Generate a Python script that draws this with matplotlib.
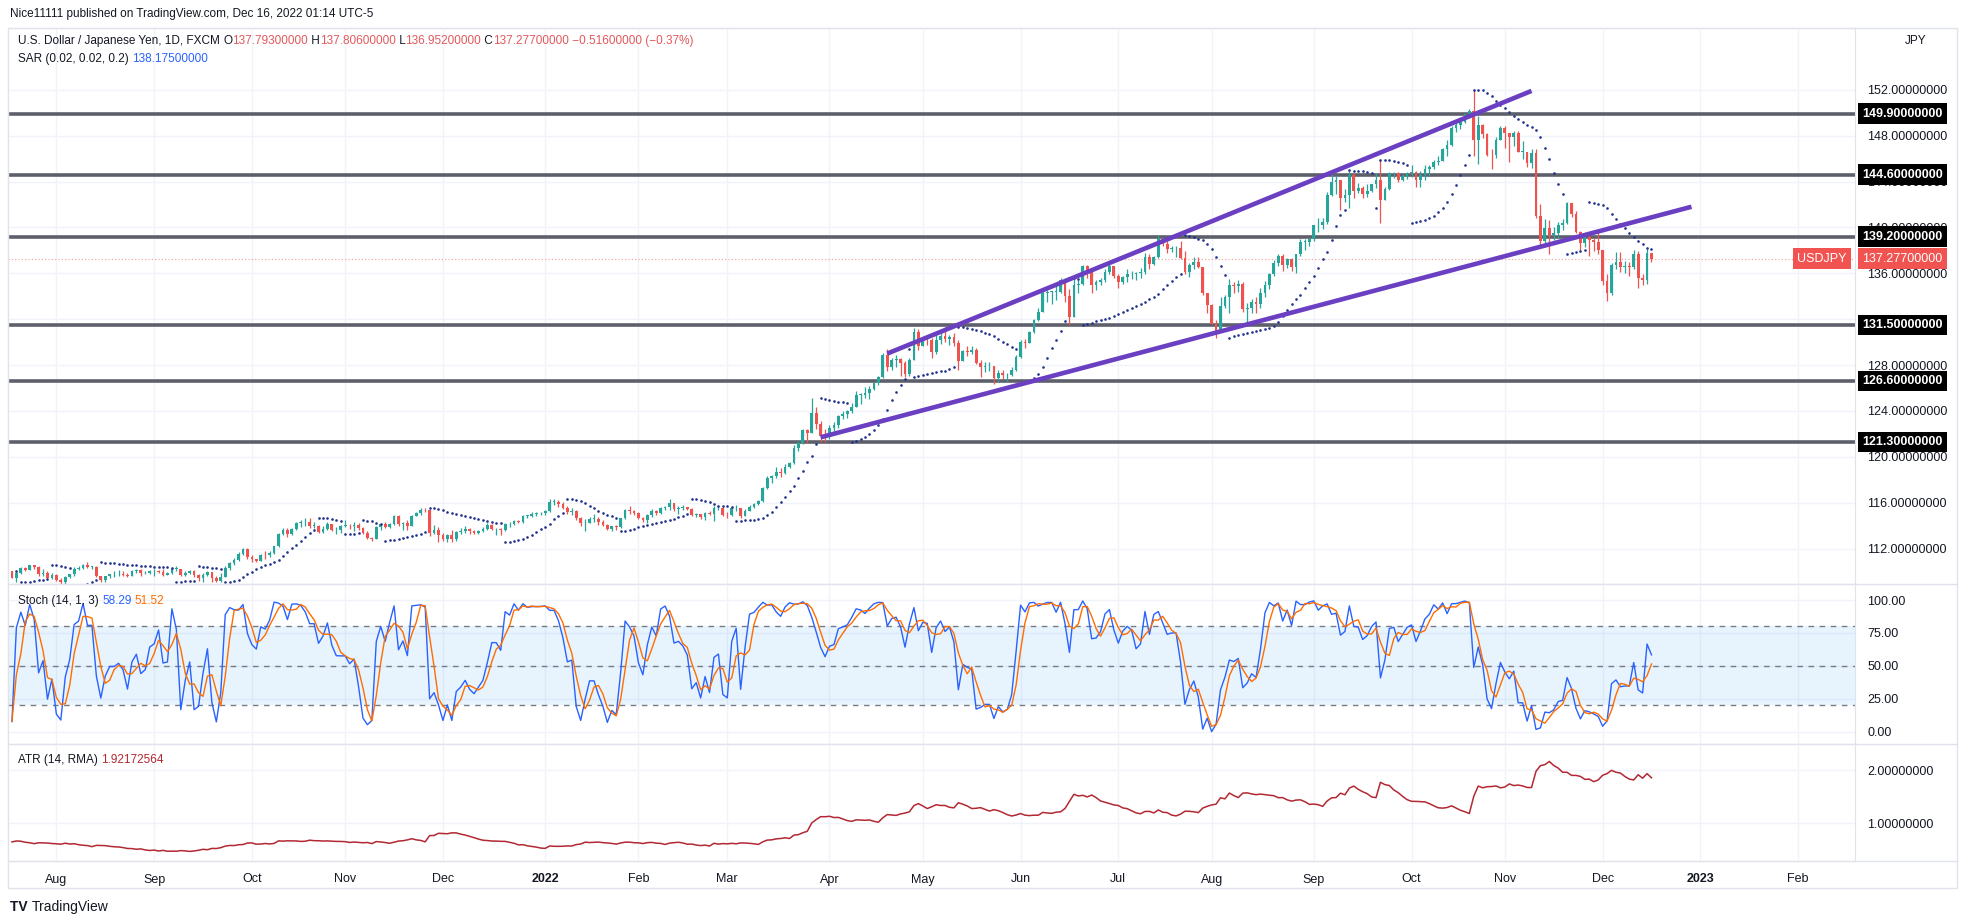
import numpy as np
import pandas as pd
import matplotlib
matplotlib.use("Agg")
import matplotlib.pyplot as plt
from matplotlib.patches import Rectangle
from matplotlib.lines import Line2D
from matplotlib.ticker import FormatStrFormatter
from matplotlib.transforms import IdentityTransform

# USDJPY, 1D, FXCM: дневные свечи с 19.07.2021 по 16.12.2022
start_date = "2021-07-19"
first_open = 110.05

closes = [
    109.45, 109.85, 110.28, 110.15, 110.55, 110.38, 109.77, 109.91, 109.47, 109.70,
    109.30, 109.05, 109.50, 109.75, 110.25, 110.30, 110.60, 110.40, 110.40, 109.60, 109.25,
    109.60, 109.75, 109.75, 109.80, 109.70, 109.65, 110.00, 110.10, 109.85, 109.90, 110.00,
    110.00, 109.95, 109.70, 109.85, 110.25, 110.25, 109.70, 109.90, 110.05, 109.70, 109.40,
    109.70, 109.95, 109.40, 109.20, 109.50, 110.30, 110.75, 111.00, 111.50, 111.95, 111.30,
    111.05, 110.95, 111.45, 111.40, 111.60, 112.20, 113.30, 113.60, 113.25, 113.70, 114.20,
    114.30, 114.35, 114.00, 114.00, 113.45, 113.70, 114.10, 113.60, 113.60, 114.00,
    114.00, 113.95, 114.05, 113.75, 113.40, 112.90, 112.85, 113.90, 114.10, 113.90, 114.15,
    114.85, 114.10, 114.25, 114.00, 114.85, 115.10, 115.40, 115.35, 113.40, 113.60, 113.15,
    112.80, 113.15, 112.80, 113.45, 113.55, 113.70, 113.50, 113.40, 113.55, 113.70, 114.05,
    113.70, 113.70, 113.60, 114.10, 114.10, 114.40, 114.35, 114.85, 114.85, 115.05, 115.10, 115.10,
    # 2022
    115.30, 116.10, 116.10, 115.85, 115.55, 115.20, 115.30, 114.65, 114.20, 114.20, 114.60,
    114.60, 114.30, 114.05, 113.70, 113.95, 113.85, 114.65, 115.35, 115.25, 115.10,
    114.65, 114.45, 114.95, 115.25, 115.10, 115.55, 115.60, 116.00, 115.45, 115.55,
    115.60, 115.45, 114.90, 115.00, 114.75, 115.10, 115.05, 115.50, 115.55, 114.95,
    114.90, 115.50, 115.50, 114.85, 115.30, 115.65, 115.85, 116.15, 117.30, 118.15, 118.30,
    118.70, 118.55, 119.15, 119.45, 120.80, 121.20, 122.30, 122.10, 123.85, 122.85, 121.85, 121.70,
    122.50, 122.75, 123.60, 123.75, 123.95, 124.35, 125.40, 125.40, 125.60, 125.90, 126.40,
    126.95, 128.90, 127.85, 128.40, 128.50, 128.15, 127.25, 128.40, 130.85, 129.70,
    130.20, 130.15, 129.10, 130.20, 130.55, 130.30, 130.45, 129.95, 128.35, 129.20, 129.15,
    129.35, 128.20, 127.80, 127.90, 127.90, 126.85, 127.30, 127.10, 127.10, 127.60, 128.70,
    130.05, 129.90, 130.85, 131.90, 132.65, 134.25, 134.40, 134.40, 134.40, 135.45, 134.00,
    132.20, 135.00, 135.10, 136.65, 136.25, 134.95, 135.20, 135.45, 136.15, 136.60, 135.75,
    135.20, 135.70, 135.90, 135.90, 136.00, 136.10, 137.45, 136.85, 137.40, 138.95, 138.55,
    138.15, 138.20, 138.20, 137.35, 136.10, 136.70, 136.95, 136.55, 134.25, 133.20,
    131.60, 130.90, 133.15, 133.90, 135.00, 134.90, 135.10, 132.90, 133.00, 133.50, 133.30,
    134.25, 135.00, 135.90, 136.90, 137.50, 136.75, 137.25, 136.55, 137.65, 138.75, 138.75, 138.95,
    140.20, 140.20, 140.50, 142.80, 144.00, 144.10, 142.60, 142.85, 144.60, 143.20, 143.45,
    142.90, 143.20, 143.75, 144.10, 142.35, 143.35, 144.70, 144.75, 144.15, 144.45, 144.75,
    144.85, 144.15, 144.60, 145.10, 145.30, 145.70, 145.80, 146.85, 147.20, 148.70, 148.95,
    149.20, 149.90, 150.15, 147.65, 148.95, 148.10, 146.35, 146.30, 147.60, 148.70,
    148.20, 147.85, 148.25, 146.60, 146.60, 145.65, 146.45, 141.00, 138.80, 139.95, 139.30,
    139.55, 140.25, 140.35, 142.10, 141.20, 139.60, 138.65, 139.15, 138.90, 138.75, 138.05,
    135.30, 134.30, 136.75, 137.00, 136.55, 136.60, 136.55, 137.70, 135.60, 135.45, 137.793, 137.277,
]
highs = [
    110.05, 110.00, 110.40, 110.40, 110.60, 110.60, 110.45, 110.20, 110.00, 109.85,
    109.75, 109.40, 109.60, 109.80, 110.35, 110.45, 110.65, 110.80, 110.50, 110.45, 109.65,
    109.65, 109.80, 110.00, 110.10, 110.00, 109.85, 110.10, 110.20, 110.20, 110.05, 110.10,
    110.20, 110.10, 110.25, 109.95, 110.30, 110.45, 110.20, 110.00, 110.15, 110.15, 109.80,
    109.85, 110.05, 109.95, 109.60, 109.85, 110.45, 110.85, 111.15, 111.70, 112.05, 112.05,
    111.45, 111.10, 111.55, 111.80, 111.75, 112.25, 113.40, 113.80, 113.80, 113.80, 114.30,
    114.45, 114.70, 114.70, 114.35, 114.05, 113.95, 114.30, 114.05, 113.85, 114.05,
    114.45, 114.15, 114.30, 114.20, 113.85, 113.50, 113.05, 113.95, 114.15, 114.30, 114.25,
    114.95, 114.95, 114.35, 114.50, 114.95, 115.20, 115.50, 115.50, 115.40, 114.05, 113.90,
    113.40, 113.30, 113.60, 113.50, 113.80, 113.95, 113.75, 113.65, 113.65, 113.85, 114.25,
    114.15, 113.80, 113.75, 114.20, 114.30, 114.45, 114.45, 114.90, 114.95, 115.15, 115.20, 115.20,
    # 2022
    115.40, 116.35, 116.30, 116.20, 116.05, 115.70, 115.50, 115.40, 114.75, 114.60, 114.75,
    115.05, 114.75, 114.45, 114.15, 114.00, 114.05, 114.70, 115.45, 115.70, 115.40,
    115.15, 114.75, 115.05, 115.45, 115.40, 115.60, 115.70, 116.35, 116.00, 115.75,
    115.80, 115.65, 115.50, 115.10, 115.05, 115.20, 115.25, 115.70, 115.75, 115.60,
    115.20, 115.60, 115.80, 115.50, 115.45, 115.80, 116.00, 116.25, 117.35, 118.30, 118.45,
    119.10, 119.00, 119.40, 119.55, 121.00, 121.40, 122.40, 122.40, 125.10, 124.30, 123.15, 122.40,
    122.80, 123.05, 123.65, 124.00, 124.05, 124.70, 125.75, 125.60, 126.10, 126.20, 126.55,
    127.05, 129.05, 129.40, 128.65, 128.85, 128.60, 128.35, 128.60, 131.25, 131.15,
    130.45, 130.40, 130.35, 130.80, 131.00, 131.35, 130.60, 130.80, 130.20, 129.35, 129.65,
    129.65, 129.45, 128.45, 128.25, 128.25, 127.95, 127.55, 127.55, 127.30, 127.85, 128.90,
    130.20, 130.25, 130.95, 132.00, 132.95, 134.50, 134.55, 134.45, 135.20, 135.60, 135.60,
    134.65, 135.50, 135.40, 136.70, 136.70, 136.30, 135.40, 135.55, 136.35, 137.00, 136.60,
    135.95, 135.80, 136.35, 136.20, 136.15, 136.50, 137.75, 137.65, 137.55, 139.35, 139.05,
    138.85, 138.40, 138.35, 138.85, 137.90, 136.90, 137.45, 137.45, 136.55, 134.05,
    133.30, 131.95, 133.90, 134.15, 135.50, 135.20, 135.40, 135.25, 133.40, 133.80, 133.90,
    134.70, 135.35, 136.00, 137.20, 137.65, 137.70, 137.35, 137.30, 137.70, 139.00, 138.95, 139.05,
    140.25, 140.80, 140.80, 143.05, 145.00, 144.50, 144.15, 143.35, 144.95, 144.75, 143.85,
    143.60, 143.75, 143.80, 144.70, 145.90, 143.50, 144.80, 144.85, 144.85, 144.65, 144.85,
    145.40, 144.95, 144.90, 145.45, 145.45, 145.90, 146.20, 146.95, 147.65, 148.85, 149.10,
    149.30, 149.95, 150.30, 151.95, 149.70, 149.05, 148.20, 146.85, 147.90, 148.80,
    148.85, 148.05, 148.40, 148.40, 147.50, 146.60, 146.80, 146.80, 142.00, 140.75, 140.65,
    140.00, 140.45, 140.75, 142.25, 142.05, 141.40, 139.70, 139.35, 139.40, 139.05, 139.90,
    138.05, 135.95, 136.90, 137.85, 137.85, 137.10, 137.00, 138.00, 137.95, 135.95, 138.15, 137.806,
]
lows = [
    109.40, 109.10, 109.80, 110.00, 110.10, 110.20, 109.60, 109.60, 109.40, 109.35,
    109.20, 108.90, 108.72, 109.40, 109.65, 110.10, 110.20, 110.30, 110.20, 109.55, 109.10,
    109.10, 109.40, 109.55, 109.60, 109.60, 109.55, 109.60, 109.85, 109.60, 109.80, 109.75,
    109.60, 109.85, 109.60, 109.70, 109.80, 110.00, 109.60, 109.60, 109.80, 109.55, 109.15,
    109.10, 109.65, 109.10, 109.10, 109.10, 109.50, 110.10, 110.60, 110.90, 111.40, 111.05,
    110.80, 110.80, 110.90, 111.05, 111.25, 111.50, 112.10, 113.20, 113.05, 113.15, 113.65,
    113.90, 114.00, 113.75, 113.80, 113.40, 113.35, 113.60, 113.50, 113.25, 113.40,
    113.85, 113.70, 113.55, 113.65, 113.30, 112.80, 112.70, 112.80, 113.60, 113.80, 113.80,
    114.05, 114.00, 113.60, 113.60, 113.95, 114.80, 114.95, 115.20, 113.10, 113.25, 112.55,
    112.65, 112.55, 112.55, 112.70, 113.30, 113.40, 113.30, 113.25, 113.30, 113.45, 113.65,
    113.60, 113.15, 113.15, 113.55, 113.90, 114.05, 114.25, 114.25, 114.65, 114.75, 114.80, 114.90,
    # 2022
    114.95, 115.20, 115.80, 115.65, 115.45, 115.05, 114.95, 114.45, 114.00, 113.50, 114.20,
    114.35, 114.05, 113.95, 113.60, 113.50, 113.60, 113.80, 114.60, 115.05, 114.90,
    114.55, 114.30, 114.20, 114.75, 114.95, 115.05, 115.35, 115.40, 115.25, 115.00,
    115.35, 115.35, 114.85, 114.75, 114.60, 114.50, 114.90, 114.40, 115.35, 114.85,
    114.65, 114.85, 115.30, 114.65, 114.85, 115.25, 115.50, 115.80, 116.05, 117.20, 117.70,
    118.15, 118.20, 118.50, 119.00, 119.40, 120.50, 121.10, 121.20, 122.05, 122.40, 121.30, 121.30,
    121.55, 122.25, 122.50, 123.30, 123.40, 123.85, 124.30, 124.60, 125.10, 125.05, 125.85,
    126.25, 126.85, 127.45, 127.60, 127.80, 127.05, 126.95, 127.05, 128.45, 129.30,
    129.70, 129.75, 128.60, 128.95, 129.85, 130.00, 129.75, 129.65, 127.55, 128.35, 128.75,
    129.00, 128.10, 127.00, 127.40, 127.45, 126.35, 126.55, 126.80, 126.65, 127.05, 127.50,
    128.65, 129.50, 129.90, 130.75, 131.80, 132.60, 133.50, 133.35, 133.70, 134.30, 133.50,
    131.50, 132.25, 134.30, 135.00, 135.60, 134.30, 134.55, 134.95, 135.25, 135.95, 135.60,
    134.75, 135.10, 135.25, 135.50, 135.45, 135.55, 135.95, 136.40, 136.75, 137.35, 138.40,
    137.75, 137.85, 137.40, 137.25, 135.95, 135.70, 136.35, 136.45, 134.15, 132.50,
    131.60, 130.40, 130.85, 132.95, 132.50, 134.30, 134.40, 132.60, 131.75, 132.50, 132.55,
    133.00, 133.95, 134.60, 135.80, 136.65, 136.20, 136.45, 136.20, 136.00, 137.50, 138.00, 138.35,
    138.80, 139.60, 139.90, 140.30, 142.75, 142.95, 141.50, 142.20, 141.65, 142.55, 143.00,
    142.60, 142.65, 143.10, 143.40, 140.35, 142.35, 143.30, 144.30, 143.95, 144.05, 144.20,
    144.40, 143.55, 143.55, 144.10, 144.50, 145.10, 145.40, 145.75, 146.20, 147.10, 148.35,
    148.60, 149.10, 149.55, 146.20, 145.50, 147.80, 146.25, 145.10, 146.05, 147.70,
    146.95, 145.70, 147.10, 146.55, 146.00, 145.30, 145.15, 140.85, 138.50, 138.40, 137.70,
    138.90, 139.05, 139.80, 140.30, 140.95, 139.50, 138.05, 138.25, 137.50, 137.90, 137.65,
    135.00, 133.60, 134.10, 136.35, 136.10, 136.05, 135.80, 136.40, 134.75, 134.95, 135.10, 136.952,
]

# горизонтальные уровни и трендовые линии
levels = [149.9, 144.6, 139.2, 131.5, 126.6, 121.3]
upper_line_dates = ["2022-04-20", "2022-11-09"]
upper_line_prices = [129.0, 151.9]
lower_line_dates = ["2022-03-30", "2022-12-29"]
lower_line_prices = [121.7, 141.8]
last_price = 137.277

month_starts = ["2021-08-01", "2021-09-01", "2021-10-01", "2021-11-01", "2021-12-01",
                "2022-01-01", "2022-02-01", "2022-03-01", "2022-04-01", "2022-05-01",
                "2022-06-01", "2022-07-01", "2022-08-01", "2022-09-01", "2022-10-01",
                "2022-11-01", "2022-12-01", "2023-01-01", "2023-02-01"]
month_names = ["Aug", "Sep", "Oct", "Nov", "Dec", "2022", "Feb", "Mar", "Apr", "May",
               "Jun", "Jul", "Aug", "Sep", "Oct", "Nov", "Dec", "2023", "Feb"]

plt.rcParams['font.family'] = ['Liberation Sans', 'DejaVu Sans']

DARK = '#131722'
UP, DOWN = '#26a69a', '#ef5350'
GRID = '#f0f3fa'
BORDER = '#e0e3eb'

W, H = 1963, 924
fig = plt.figure(figsize=(W / 100, H / 100), dpi=100)
fig.patch.set_facecolor('white')

left, right, frame_r = 7.5, 1855, 1957
p_top, p_bot, s_bot, a_bot, frame_bot = 27.6, 584, 744, 861, 888


def box(top, bot):
    return [left / W, 1 - bot / H, (right - left) / W, (bot - top) / H]


ax_p = fig.add_axes(box(p_top, p_bot))
ax_s = fig.add_axes(box(p_bot, s_bot), sharex=ax_p)
ax_a = fig.add_axes(box(s_bot, a_bot), sharex=ax_p)

# данные
all_days = pd.bdate_range(start_date, periods=430)


def pos(d):
    return int(all_days.searchsorted(pd.Timestamp(d)))


c = np.array(closes)
o = np.r_[first_open, c[:-1]]
h = np.maximum(np.array(highs), np.maximum(o, c))
l = np.minimum(np.array(lows), np.minimum(o, c))
x = np.arange(len(c))

# индикаторы
hs, lsr, cs = pd.Series(h), pd.Series(l), pd.Series(c)
hh = hs.rolling(14, min_periods=1).max()
ll = lsr.rolling(14, min_periods=1).min()
k = 100 * (cs - ll) / (hh - ll)
d = k.rolling(3, min_periods=1).mean()

prev = cs.shift(1).fillna(first_open)
tr = np.maximum(hs - lsr, np.maximum((hs - prev).abs(), (lsr - prev).abs()))
atr = tr.ewm(alpha=1 / 14, adjust=False).mean()


def psar(high, low, close, start=0.02, inc=0.02, mx=0.2):
    # как встроенный ta.sar в TradingView
    n = len(high)
    out = np.full(n, np.nan)
    below = close[1] > close[0]
    if below:
        ext, res = high[1], low[0]
    else:
        ext, res = low[1], high[0]
    acc = start
    for i in range(1, n):
        first = i == 1
        res = res + acc * (ext - res)
        if below:
            if res > low[i]:
                first, below = True, False
                res, ext, acc = max(high[i], ext), low[i], start
        else:
            if res < high[i]:
                first, below = True, True
                res, ext, acc = min(low[i], ext), high[i], start
        if not first:
            if below and high[i] > ext:
                ext, acc = high[i], min(acc + inc, mx)
            elif not below and low[i] < ext:
                ext, acc = low[i], min(acc + inc, mx)
        if below:
            res = min(res, low[i - 1], low[max(i - 2, 0)])
        else:
            res = max(res, high[i - 1], high[max(i - 2, 0)])
        out[i] = res
    return out


sar = psar(h, l, c)

# свечи
col = np.where(c >= o, UP, DOWN)
ax_p.vlines(x, l, h, colors=col, lw=0.9, zorder=3)
ax_p.bar(x, np.maximum(np.abs(c - o), 0.04), bottom=np.minimum(o, c), width=0.62,
         color=col, linewidth=0, zorder=3)
ax_p.plot(x, sar, ls='none', marker='o', ms=1.9, mew=0, color='#22318c', zorder=4)

for lv in levels:
    ax_p.axhline(lv, color='#5d606b', lw=2.6, zorder=2)
    ax_p.annotate(f'{lv:.8f}', xy=(1, lv), xycoords=('axes fraction', 'data'),
                  xytext=(5, 0), textcoords='offset points', ha='left', va='center',
                  fontsize=9, color='white', fontweight='bold', annotation_clip=False,
                  bbox=dict(boxstyle='square,pad=0.35', fc='black', ec='none'), zorder=10)

ax_p.plot([pos(t) for t in upper_line_dates], upper_line_prices, color='#6a3fc1', lw=3.3,
          solid_capstyle='butt', zorder=5)
ax_p.plot([pos(t) for t in lower_line_dates], lower_line_prices, color='#6a3fc1', lw=3.3,
          solid_capstyle='butt', zorder=5)

ax_p.axhline(last_price, color='#f09a9a', lw=0.8, ls=(0, (1, 2)), zorder=1)
ax_p.annotate(f'{last_price:.8f}', xy=(1, last_price), xycoords=('axes fraction', 'data'),
              xytext=(5, 0), textcoords='offset points', ha='left', va='center',
              fontsize=9, color='white', annotation_clip=False,
              bbox=dict(boxstyle='square,pad=0.35', fc='#f05350', ec='none'), zorder=10)
ax_p.annotate('USDJPY', xy=(1, last_price), xycoords=('axes fraction', 'data'),
              xytext=(-6, 0), textcoords='offset points', ha='right', va='center',
              fontsize=9, color='white', annotation_clip=False,
              bbox=dict(boxstyle='square,pad=0.35', fc='#f05350', ec='none'), zorder=10)

# стохастик
ax_s.axhspan(20, 80, color='#2196f3', alpha=0.1, lw=0)
for v in (80, 50, 20):
    ax_s.axhline(v, color='#787b86', lw=1, ls=(0, (4, 4)))
ax_s.plot(x, k, color='#2962ff', lw=1.0, zorder=3)
ax_s.plot(x, d, color='#ff6d00', lw=1.0, zorder=3)

# ATR
ax_a.plot(x, atr, color='#b22833', lw=1.1)

# оси
for ax in (ax_p, ax_s, ax_a):
    ax.set_facecolor('white')
    ax.yaxis.tick_right()
    ax.tick_params(axis='y', length=0, pad=9, labelsize=9, labelcolor=DARK)
    ax.tick_params(axis='x', length=0)
    for sp in ax.spines.values():
        sp.set_color(BORDER)
    ax.spines['left'].set_visible(False)
    ax.grid(True, color=GRID, lw=1)
    ax.set_axisbelow(True)

ax_p.set_xlim(-1.0, 414.8)
ax_p.set_ylim(108.91, 157.42)
ax_p.set_yticks(np.arange(112, 153, 4))
ax_p.yaxis.set_major_formatter(FormatStrFormatter('%.8f'))
ax_s.set_ylim(-9.4, 112.2)
ax_s.set_yticks([0, 25, 50, 75, 100])
ax_s.yaxis.set_major_formatter(FormatStrFormatter('%.2f'))
ax_a.set_ylim(0.29, 2.498)
ax_a.set_yticks([1, 2])
ax_a.yaxis.set_major_formatter(FormatStrFormatter('%.8f'))

ax_a.set_xticks([pos(t) for t in month_starts], month_names)
ax_a.tick_params(axis='x', pad=9, labelsize=9, labelcolor=DARK)
for lab in ax_a.get_xticklabels():
    if lab.get_text() in ('2022', '2023'):
        lab.set_fontweight('bold')
ax_p.tick_params(labelbottom=False)
ax_s.tick_params(labelbottom=False)

# рамка и разделители
fig.add_artist(Rectangle((left / W, 1 - frame_bot / H), (frame_r - left) / W, (frame_bot - p_top) / H,
                         transform=fig.transFigure, fill=False, ec=BORDER, lw=1))
for yy in (p_bot, s_bot, a_bot):
    fig.add_artist(Line2D([left / W, frame_r / W], [1 - yy / H] * 2, color=BORDER, lw=1))

# подписи
renderer = fig.canvas.get_renderer()


def run(x0, y0, parts, size=8.5):
    for s, colr, wt in parts:
        t = fig.text(x0, H - y0, s, transform=IdentityTransform(), color=colr,
                     fontsize=size, fontweight=wt, ha='left', va='center')
        x0 += t.get_window_extent(renderer).width


RED = '#e2585b'
run(10, 14, [('Nice11111 published on TradingView.com, Dec 16, 2022 01:14 UTC-5', DARK, 'normal')])
run(18, 41.4, [('U.S. Dollar / Japanese Yen, 1D, FXCM ', DARK, 'normal'),
               ('O', DARK, 'normal'), ('137.79300000', RED, 'normal'),
               (' H', DARK, 'normal'), ('137.80600000', RED, 'normal'),
               (' L', DARK, 'normal'), ('136.95200000', RED, 'normal'),
               (' C', DARK, 'normal'), ('137.27700000', RED, 'normal'),
               (' \u22120.51600000 (\u22120.37%)', RED, 'normal')])
run(18, 59, [('SAR (0.02, 0.02, 0.2) ', DARK, 'normal'), ('138.17500000', '#2962ff', 'normal')])
run(18, 601, [('Stoch (14, 1, 3) ', DARK, 'normal'), ('58.29', '#2962ff', 'normal'),
              (' ', DARK, 'normal'), ('51.52', '#ff6d00', 'normal')])
run(18, 760, [('ATR (14, RMA) ', DARK, 'normal'), ('1.92172564', '#b22833', 'normal')])
run(1905, 41.4, [('JPY', DARK, 'normal')])
run(10, 907, [('TV ', DARK, 'bold'), ('TradingView', DARK, 'normal')], size=10)

fig.savefig('out.png', dpi=100, facecolor='white')
